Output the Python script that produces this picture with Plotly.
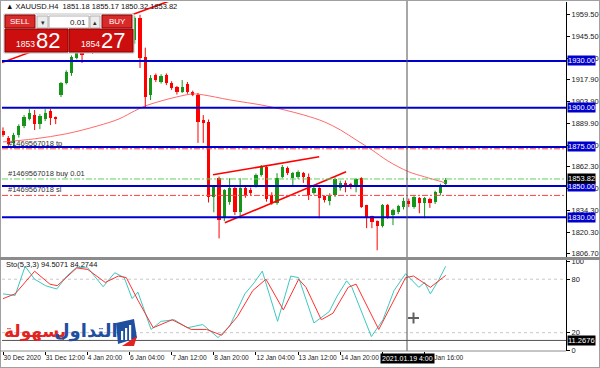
import plotly.graph_objects as go

# ---------------- data ----------------
opens = [1885.0, 1880.7, 1877.4, 1882.6, 1888.3, 1892.8, 1895.4, 1889.6, 1892.8, 1897.9,
         1894.1, 1908.2, 1915.9, 1922.0, 1932.0, 1937.5, 1937.0, 1943.0, 1939.0, 1946.0,
         1944.0, 1950.0, 1947.0, 1952.0, 1949.0, 1943.5, 1957.6, 1932.6, 1908.2, 1921.0,
         1916.5, 1921.0, 1915.9, 1913.3, 1910.1, 1915.3, 1910.1, 1908.2, 1892.2, 1891.0,
         1842.8, 1855.0, 1829.4, 1839.6, 1848.6, 1833.2, 1848.6, 1847.3, 1850.5, 1857.0,
         1862.1, 1844.1, 1839.0, 1855.6, 1861.4, 1855.0, 1855.6, 1858.2, 1855.6, 1845.4,
         1848.6, 1843.5, 1840.3, 1844.1, 1848.6, 1851.8, 1851.0, 1850.5, 1855.0, 1837.7,
         1830.6, 1827.4, 1824.2, 1837.7, 1831.3, 1833.2, 1836.4, 1840.3, 1836.4, 1842.2,
         1839.0, 1841.6, 1839.6, 1845.4, 1851.18]
highs = [1887.5, 1882.0, 1884.0, 1889.5, 1895.5, 1899.2, 1898.6, 1896.0, 1899.2, 1899.2,
         1894.5, 1916.5, 1924.0, 1933.5, 1937.1, 1939.0, 1944.0, 1945.0, 1948.0, 1950.0,
         1953.0, 1954.0, 1955.0, 1956.0, 1953.0, 1958.5, 1959.5, 1938.5, 1921.0, 1922.0,
         1921.5, 1922.0, 1917.0, 1914.0, 1917.8, 1916.5, 1911.0, 1909.5, 1895.4, 1892.5,
         1850.0, 1856.0, 1848.0, 1855.0, 1850.0, 1855.0, 1850.5, 1849.0, 1858.0, 1863.5,
         1863.0, 1846.0, 1858.2, 1863.5, 1862.5, 1859.0, 1860.0, 1859.0, 1858.0, 1849.5,
         1849.5, 1844.0, 1845.4, 1855.5, 1853.5, 1853.5, 1852.0, 1855.0, 1855.6, 1838.0,
         1831.0, 1828.0, 1838.5, 1838.5, 1835.5, 1838.0, 1842.5, 1842.0, 1844.0, 1843.0,
         1843.0, 1842.5, 1847.0, 1851.5, 1855.17]
lows = [1881.5, 1875.5, 1875.5, 1881.0, 1887.0, 1892.0, 1885.8, 1886.4, 1891.5, 1889.0,
        1889.6, 1906.9, 1915.0, 1920.5, 1931.0, 1928.7, 1936.5, 1934.5, 1937.5, 1941.0,
        1942.0, 1944.0, 1945.0, 1946.0, 1942.0, 1941.0, 1925.5, 1900.5, 1905.0, 1916.5,
        1915.5, 1914.6, 1911.5, 1908.5, 1909.5, 1909.0, 1907.5, 1877.6, 1877.6, 1839.5,
        1833.2, 1816.5, 1827.5, 1838.0, 1831.5, 1829.4, 1842.5, 1844.0, 1849.0, 1856.0,
        1840.0, 1838.0, 1838.0, 1855.0, 1857.0, 1850.5, 1854.5, 1852.0, 1841.0, 1844.5,
        1829.4, 1839.5, 1837.7, 1843.0, 1847.0, 1846.0, 1848.0, 1846.0, 1836.0, 1823.0,
        1823.0, 1808.9, 1823.5, 1829.0, 1825.0, 1832.0, 1835.0, 1836.5, 1835.5, 1832.6,
        1829.4, 1836.0, 1838.5, 1844.0, 1850.32]
closes = [1882.5, 1877.0, 1882.6, 1888.3, 1894.1, 1896.7, 1889.6, 1894.7, 1896.7, 1893.5,
          1892.8, 1915.9, 1923.0, 1932.6, 1935.8, 1934.0, 1942.0, 1939.0, 1946.0, 1944.0,
          1950.0, 1947.0, 1952.0, 1949.0, 1944.0, 1957.6, 1932.0, 1906.9, 1919.1, 1917.8,
          1920.4, 1915.9, 1912.7, 1910.1, 1913.3, 1910.1, 1908.2, 1891.0, 1890.3, 1843.0,
          1849.2, 1828.1, 1847.3, 1848.6, 1833.2, 1848.6, 1844.1, 1845.4, 1857.0, 1862.1,
          1841.5, 1839.0, 1855.0, 1862.1, 1858.2, 1858.2, 1858.8, 1855.6, 1844.1, 1848.6,
          1842.2, 1841.0, 1843.5, 1854.4, 1851.8, 1849.2, 1849.5, 1854.4, 1836.4, 1830.0,
          1826.8, 1824.2, 1837.7, 1830.0, 1834.5, 1837.1, 1840.3, 1838.5, 1842.8, 1839.0,
          1842.2, 1839.0, 1846.0, 1850.5, 1853.82]
bar_index = list(range(len(closes)))

ma_bars = [0, 6, 12, 18, 22, 25, 27, 30, 33, 36, 38, 43, 50, 57, 61, 64, 67, 70, 73, 77, 80, 84]
ma_vals = [1878.2, 1880.2, 1883.4, 1888.5, 1892.9, 1898.1, 1901.2, 1904.4, 1907.0, 1908.9, 1908.3,
           1905.1, 1901.2, 1895.5, 1891.0, 1885.9, 1879.5, 1873.1, 1866.1, 1859.1, 1855.9, 1852.0]

stoch_k_bars = [0, 2.3, 4.2, 6, 8.1, 10.2, 12.1, 14, 16.1, 19, 21.2, 23, 24.5, 25.6, 28.1, 30, 32.5,
                35, 37.9, 40.8, 43, 45.9, 47.7, 49.2, 52.1, 54.6, 56.1, 59, 61.9, 63.3, 65.2, 66.2,
                69.9, 72.1, 74.2, 76.4, 78.9, 80, 81.1, 82.6, 84]
stoch_k_vals = [63.6, 61.8, 94.5, 80, 72.7, 69, 83.6, 93.5, 92.7, 71.6, 87.3, 81.8, 58.2, 65.5, 23.6,
                32.7, 34.5, 25.5, 29.1, 14.5, 27.3, 63.6, 76.4, 89.1, 32.7, 83.6, 81.8, 30.9, 43.6,
                60, 78.2, 70.9, 15.6, 34.5, 67.3, 86.2, 70.9, 76.4, 63.6, 78.2, 94.5]
stoch_d_bars = [0, 2.3, 6, 8.9, 10.3, 14, 16.1, 19.4, 21.9, 23.4, 25.6, 28.5, 32.1, 35.7, 38.6, 41.5,
                44.5, 47.4, 49.9, 53.2, 56.1, 57.5, 60.4, 62.6, 65.5, 67, 71.3, 76.4, 77.9, 81.1, 84]
stoch_d_vals = [58.2, 63.6, 89, 74.5, 72.7, 92.7, 90.9, 76.4, 83.6, 81.8, 56.4, 25.5, 34.5, 23.6, 23.6,
                17.1, 38.2, 67.3, 80, 45.5, 80, 70.9, 34.5, 41.8, 70.9, 74.5, 23.6, 81.8, 83.6, 70.9, 84.27]
stoch_levels = [80, 20]

level_prices = [1930.0, 1900.0, 1875.0, 1850.0, 1830.0]
order_id = "#1469567018"
tp_price, buy_price, sl_price = 1873.8, 1854.5, 1844.0
bid_price = 1853.82

trend_x = [[-0.2, 31.7], [39.85, 60.0], [42.1, 65.1]]
trend_y = [[1929.0, 1968.5], [1857.2, 1868.7], [1826.5, 1859.1]]

price_ticks = [1959.5, 1945.5, 1931.5, 1917.9, 1903.9, 1889.9, 1875.9, 1862.3, 1848.3, 1834.3, 1820.3, 1806.7]
stoch_ticks = [0, 20, 80, 100]
time_tick_bars = [0, 8, 16, 24, 32, 40, 48, 56, 64, 72, 80]
time_tick_labels = ["30 Dec 2020", "31 Dec 12:00", "4 Jan 20:00", "6 Jan 04:00", "7 Jan 12:00",
                    "8 Jan 20:00", "12 Jan 04:00", "13 Jan 12:00", "14 Jan 20:00", "18 Jan 04:00",
                    "19 Jan 16:00"]
cross_time_label = "2021.01.19 4:00"
cross_stoch_value = 11.2676
header_text = "\u25b2 XAUUSD.H4  1851.18 1855.17 1850.32 1853.82"
stoch_header = "Sto(5,3,3) 94.5071 84.2744"
sell_price, buy_ask = ("1853", "82"), ("1854", "27")
lot = "0.01"

# ---------------- geometry helpers ----------------
W, H = 600, 368
def px(x): return x / W
def py(y): return 1 - y / H

FONT = "Liberation Sans, Arial, sans-serif"
GREEN, RED = "#17951a", "#ff0000"
BLUE = "#0000cc"

fig = go.Figure()

fig.add_trace(go.Scatter(x=ma_bars, y=ma_vals, mode="lines", line=dict(color="#ff6a6a", width=1, shape="spline"),
                         xaxis="x", yaxis="y", hoverinfo="skip"))

bull = [c >= o for o, c in zip(opens, closes)]
base = [min(o, c) for o, c in zip(opens, closes)]
height = [max(abs(c - o), 0.6) for o, c in zip(opens, closes)]
colors = [GREEN if b else RED for b in bull]
for want, col in ((True, GREEN), (False, RED)):
    wx, wy = [], []
    for i, b in enumerate(bull):
        if b == want:
            wx += [bar_index[i], bar_index[i], None]
            wy += [lows[i], highs[i], None]
    fig.add_trace(go.Scatter(x=wx, y=wy, mode="lines", line=dict(color=col, width=1), xaxis="x", yaxis="y",
                             hoverinfo="skip"))
fig.add_trace(go.Bar(x=bar_index, y=height, base=base, width=0.62, marker=dict(color=colors, line=dict(width=0)),
                     xaxis="x", yaxis="y", hoverinfo="skip"))

for tx, ty in zip(trend_x, trend_y):
    fig.add_trace(go.Scatter(x=tx, y=ty, mode="lines", line=dict(color=RED, width=1.6), xaxis="x", yaxis="y",
                             hoverinfo="skip"))

fig.add_trace(go.Scatter(x=stoch_k_bars, y=stoch_k_vals, mode="lines", line=dict(color="#3cc8c0", width=1),
                         xaxis="x2", yaxis="y2", hoverinfo="skip"))
fig.add_trace(go.Scatter(x=stoch_d_bars, y=stoch_d_vals, mode="lines", line=dict(color="#ff3030", width=1),
                         xaxis="x2", yaxis="y2", hoverinfo="skip"))

shapes = []
annotations = []

for lv in stoch_levels:
    shapes.append(dict(type="line", xref="x2 domain", yref="y2", x0=0, x1=1, y0=lv, y1=lv,
                       line=dict(color="#c8c8c8", width=1, dash="dot"), layer="below"))

DD = "6px,2px,2px,2px"
shapes.append(dict(type="line", xref="x domain", yref="y", x0=0, x1=1, y0=tp_price, y1=tp_price,
                   line=dict(color="#ff4040", width=1, dash=DD)))
shapes.append(dict(type="line", xref="x domain", yref="y", x0=0, x1=1, y0=sl_price, y1=sl_price,
                   line=dict(color="#ff4040", width=1, dash=DD)))
shapes.append(dict(type="line", xref="x domain", yref="y", x0=0, x1=1, y0=buy_price, y1=buy_price,
                   line=dict(color="#60d060", width=1, dash=DD)))
for txt, pr in ((order_id + " tp", tp_price), (order_id + " buy " + lot, buy_price), (order_id + " sl", sl_price)):
    annotations.append(dict(xref="paper", yref="y", x=px(7), y=pr, xanchor="left", yanchor="bottom",
                            text=txt, showarrow=False, borderpad=0,
                            font=dict(family=FONT, size=7.5, color="#303030")))

for lp in level_prices:
    shapes.append(dict(type="line", xref="x domain", yref="y", x0=0, x1=1, y0=lp, y1=lp,
                       line=dict(color=BLUE, width=2)))
    annotations.append(dict(xref="paper", yref="y", x=px(567), y=lp, xanchor="left", yanchor="middle",
                            text=f"{lp:.2f}", showarrow=False, bgcolor=BLUE, borderpad=0,
                            font=dict(family=FONT, size=7.5, color="white")))
annotations.append(dict(xref="paper", yref="y", x=px(567), y=bid_price + 1.2, xanchor="left", yanchor="middle",
                        text=f"{bid_price:.2f}", showarrow=False, bgcolor="black", borderpad=0,
                        font=dict(family=FONT, size=7.5, color="white")))

shapes.append(dict(type="line", xref="paper", yref="paper", x0=px(407), x1=px(407), y0=py(351), y1=py(1),
                   line=dict(color="#505050", width=1)))
shapes.append(dict(type="line", xref="x2 domain", yref="y2", x0=0, x1=1, y0=cross_stoch_value,
                   y1=cross_stoch_value, line=dict(color="#505050", width=1)))
annotations.append(dict(xref="paper", yref="y2", x=px(567), y=cross_stoch_value, xanchor="left", yanchor="middle",
                        text=f"{cross_stoch_value:.4f}", showarrow=False, bgcolor="black", borderpad=0,
                        font=dict(family=FONT, size=7.5, color="white")))
annotations.append(dict(xref="paper", yref="paper", x=px(407), y=py(358), xanchor="center", yanchor="middle",
                        text=cross_time_label, showarrow=False, bgcolor="black", borderpad=1,
                        font=dict(family=FONT, size=7, color="white")))
shapes.append(dict(type="line", xref="paper", yref="paper", x0=px(408), x1=px(419), y0=py(318), y1=py(318),
                   line=dict(color="#606060", width=2)))
shapes.append(dict(type="line", xref="paper", yref="paper", x0=px(413.5), x1=px(413.5), y0=py(312.5), y1=py(323.5),
                   line=dict(color="#606060", width=2)))

shapes.append(dict(type="rect", xref="paper", yref="paper", x0=0, x1=1, y0=0, y1=1,
                   line=dict(color="#a0a0a0", width=2)))
shapes.append(dict(type="line", xref="paper", yref="paper", x0=0, x1=1, y0=py(258.5), y1=py(258.5),
                   line=dict(color="#8c8c8c", width=3)))
shapes.append(dict(type="line", xref="paper", yref="paper", x0=0, x1=px(566), y0=py(351), y1=py(351),
                   line=dict(color="#8c8c8c", width=1)))

def rect(x0, y0, x1, y1, fill, line="#8a0000", lw=1):
    shapes.append(dict(type="rect", xref="paper", yref="paper", x0=px(x0), x1=px(x1), y0=py(y1), y1=py(y0),
                       fillcolor=fill, line=dict(color=line, width=lw), layer="above"))
def label(x, y, txt, size, color="white", anchor="center", family=FONT):
    annotations.append(dict(xref="paper", yref="paper", x=px(x), y=py(y), xanchor=anchor, yanchor="middle",
                            text=txt, showarrow=False, borderpad=0,
                            font=dict(family=family, size=size, color=color)))

rect(4, 14, 134, 53, "white", line="#c0c0c0")
rect(5, 15, 35, 28, "#d92a2a")
rect(37, 16, 48, 28, "#ececec", line="#b0b0b0")
rect(49, 16, 89, 28, "white", line="#b0b0b0")
rect(90, 16, 100, 28, "#ececec", line="#b0b0b0")
rect(102, 15, 132, 28, "#d92a2a")
rect(5, 29, 68, 52, "#cc0e0e")
rect(69, 29, 133, 52, "#cc0e0e")
label(20, 21.5, "SELL", 8)
label(117, 21.5, "BUY", 8)
label(42.5, 22, "\u25be", 7, color="#303030")
label(95, 22, "\u25b4", 7, color="#303030")
label(87, 22, lot, 8, color="#202020", anchor="right")
label(25, 44, sell_price[0], 8.5)
label(48, 40, sell_price[1], 22)
label(90, 44, buy_ask[0], 8.5)
label(113, 40, buy_ask[1], 22)

label(5, 6.5, header_text, 7.5, color="#101010", anchor="left")
label(5, 264.5, stoch_header, 7.5, color="#101010", anchor="left")

# logo
label(3, 331, "<b>بسهولة</b>", 17, color="#e32222", anchor="left", family="DejaVu Sans, sans-serif")
label(86, 331, "<b>التداول</b>", 18, color="#1f4f9f", family="DejaVu Sans, sans-serif")
shapes.append(dict(type="path", xref="paper", yref="paper", layer="above",
                   path=f"M {px(116)} {py(323)} L {px(134)} {py(319)} L {px(137)} {py(338)} L {px(118)} {py(344)} Z",
                   fillcolor="#1f4f9f", line=dict(width=0)))
for bx, top in ((121, 331), (125, 328), (129, 325)):
    shapes.append(dict(type="rect", xref="paper", yref="paper", layer="above", x0=px(bx), x1=px(bx + 2.2),
                       y0=py(340), y1=py(top), fillcolor="white", line=dict(width=0)))
shapes.append(dict(type="path", xref="paper", yref="paper", layer="above",
                   path=f"M {px(122)} {py(346)} L {px(137)} {py(336)} L {px(134)} {py(346)} Z",
                   fillcolor="#e32222", line=dict(width=0)))

x_range = [-0.19, 106.83]
fig.update_layout(
    width=W, height=H, margin=dict(l=0, r=0, t=0, b=0, autoexpand=False),
    paper_bgcolor="white", plot_bgcolor="white", showlegend=False,
    barmode="overlay", bargap=0,
    font=dict(family=FONT, size=8, color="black"),
    xaxis=dict(domain=[px(2), px(566)], range=x_range, showticklabels=False, showgrid=False, zeroline=False,
               ticks="", anchor="y", automargin=False),
    yaxis=dict(domain=[py(257), py(2)], range=[1804.6, 1967.7], side="right", anchor="x", automargin=False,
               tickvals=price_ticks, ticktext=[f"{v:.2f}" for v in price_ticks],
               ticks="outside", ticklen=3, tickcolor="black", showgrid=False, zeroline=False,
               showline=True, linecolor="black", linewidth=1, tickfont=dict(size=7.5, color="#202020")),
    xaxis2=dict(domain=[px(2), px(566)], range=x_range, matches="x", anchor="y2", automargin=False,
                tickvals=time_tick_bars, ticktext=time_tick_labels, ticks="outside", ticklen=3, tickangle=0,
                tickcolor="black", ticklabelposition="outside right", showgrid=False, zeroline=False,
                tickfont=dict(size=6.6, color="#202020")),
    yaxis2=dict(domain=[py(351), py(260)], range=[-0.6, 101.6], side="right", anchor="x2", automargin=False,
                tickvals=stoch_ticks, ticktext=[str(v) for v in stoch_ticks], ticks="outside", ticklen=3,
                tickcolor="black", showgrid=False, zeroline=False, showline=True, linecolor="black",
                linewidth=1, tickfont=dict(size=7.5, color="#202020")),
    shapes=shapes, annotations=annotations,
)

fig.write_html("out.html", config={"displayModeBar": False},
               post_script="document.body.style.margin='0';document.body.style.overflow='hidden';")
